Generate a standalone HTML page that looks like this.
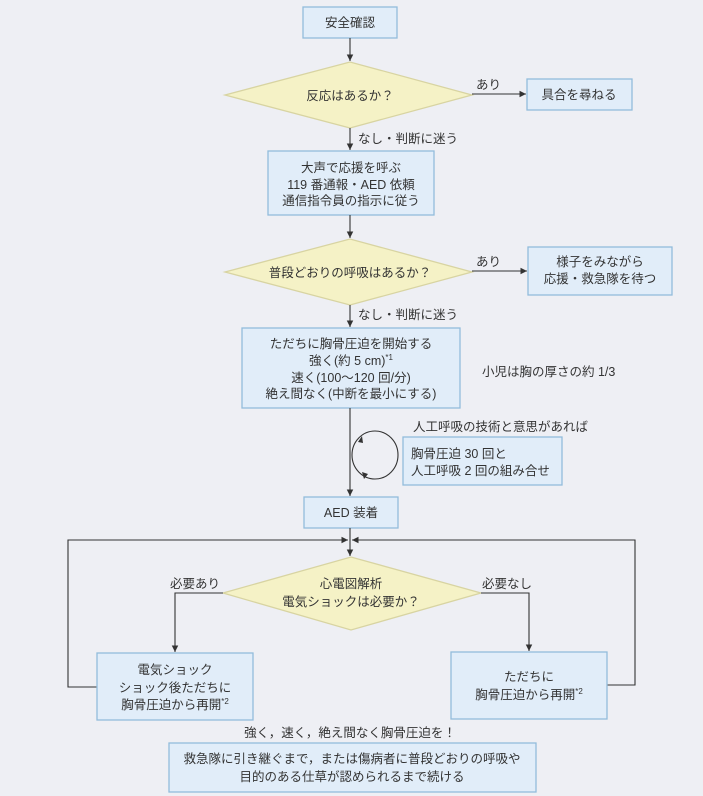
<!DOCTYPE html>
<html><head><meta charset="utf-8"><style>
html,body{margin:0;padding:0;background:#eeeff4;}
svg{display:block}
text{font-family:"Liberation Sans","Noto Sans CJK JP",sans-serif;font-size:12.5px;fill:#333;}
.b{fill:#e1edf9;stroke:#93bcdb;stroke-width:1.3}
.d{fill:#f5f2c6;stroke:#d8d4a2;stroke-width:1.3}
.l{stroke:#333;stroke-width:1.1;fill:none}
</style></head><body>
<svg width="703" height="796" viewBox="0 0 703 796">
<defs><marker id="a" viewBox="0 0 10 10" refX="10" refY="5" markerWidth="6" markerHeight="6" orient="auto"><path d="M0,0L10,5L0,10z" fill="#333"/></marker></defs>
<rect class="b" x="303" y="7" width="94" height="31"/>
<text x="350" y="27" text-anchor="middle">安全確認</text>
<line class="l" x1="350" y1="38" x2="350" y2="61" marker-end="url(#a)"/>
<polygon class="d" points="225,95 350,62 472,95 350,128"/>
<text x="350" y="100" text-anchor="middle">反応はあるか？</text>
<line class="l" x1="472" y1="94" x2="526" y2="94" marker-end="url(#a)"/>
<text x="476" y="89">あり</text>
<rect class="b" x="527" y="79" width="105" height="31"/>
<text x="579" y="99" text-anchor="middle">具合を尋ねる</text>
<line class="l" x1="350" y1="128" x2="350" y2="150" marker-end="url(#a)"/>
<text x="358" y="143">なし・判断に迷う</text>
<rect class="b" x="268" y="151" width="166" height="64"/>
<text x="351" y="172" text-anchor="middle">大声で応援を呼ぶ</text>
<text x="351" y="189" text-anchor="middle">119 番通報・AED 依頼</text>
<text x="351" y="205" text-anchor="middle">通信指令員の指示に従う</text>
<line class="l" x1="350" y1="215" x2="350" y2="238" marker-end="url(#a)"/>
<polygon class="d" points="225,272 350,239 472,272 350,305"/>
<text x="350" y="277" text-anchor="middle">普段どおりの呼吸はあるか？</text>
<line class="l" x1="472" y1="271" x2="527" y2="271" marker-end="url(#a)"/>
<text x="476" y="266">あり</text>
<rect class="b" x="528" y="247" width="144" height="48"/>
<text x="600" y="266" text-anchor="middle">様子をみながら</text>
<text x="600" y="283" text-anchor="middle">応援・救急隊を待つ</text>
<line class="l" x1="350" y1="305" x2="350" y2="327" marker-end="url(#a)"/>
<text x="358" y="319">なし・判断に迷う</text>
<rect class="b" x="242" y="328" width="218" height="80"/>
<text x="351" y="348" text-anchor="middle">ただちに胸骨圧迫を開始する</text>
<text x="351" y="365" text-anchor="middle">強く(約 5 cm)<tspan font-size="8" dy="-5">*1</tspan></text>
<text x="351" y="382" text-anchor="middle">速く(100〜120 回/分)</text>
<text x="351" y="398" text-anchor="middle">絶え間なく(中断を最小にする)</text>
<text x="482" y="376">小児は胸の厚さの約 1/3</text>
<line class="l" x1="350" y1="408" x2="350" y2="496" marker-end="url(#a)"/>
<ellipse class="l" cx="375" cy="455" rx="23" ry="24"/>
<path d="M358,442l4,-6l1,7z M362,472l2,7l4,-5z" fill="#333"/>
<text x="413" y="431">人工呼吸の技術と意思があれば</text>
<rect class="b" x="403" y="437" width="159" height="48"/>
<text x="411" y="458">胸骨圧迫 30 回と</text>
<text x="411" y="475">人工呼吸 2 回の組み合せ</text>
<rect class="b" x="304" y="497" width="94" height="31"/>
<text x="351" y="517" text-anchor="middle">AED 装着</text>
<line class="l" x1="350" y1="528" x2="350" y2="556" marker-end="url(#a)"/>
<polyline class="l" points="97,687 68,687 68,540 348,540" marker-end="url(#a)"/>
<polyline class="l" points="607,685 635,685 635,540 352,540" marker-end="url(#a)"/>
<polygon class="d" points="223,593 351,557 481,593 351,630"/>
<text x="351" y="588" text-anchor="middle">心電図解析</text>
<text x="351" y="606" text-anchor="middle">電気ショックは必要か？</text>
<polyline class="l" points="223,593 175,593 175,652" marker-end="url(#a)"/>
<text x="170" y="588">必要あり</text>
<polyline class="l" points="481,593 529,593 529,651" marker-end="url(#a)"/>
<text x="482" y="588">必要なし</text>
<rect class="b" x="97" y="653" width="156" height="67"/>
<text x="175" y="674" text-anchor="middle">電気ショック</text>
<text x="175" y="692" text-anchor="middle">ショック後ただちに</text>
<text x="175" y="709" text-anchor="middle">胸骨圧迫から再開<tspan font-size="8" dy="-5">*2</tspan></text>
<rect class="b" x="451" y="652" width="156" height="67"/>
<text x="529" y="681" text-anchor="middle">ただちに</text>
<text x="529" y="699" text-anchor="middle">胸骨圧迫から再開<tspan font-size="8" dy="-5">*2</tspan></text>
<text x="350" y="737" text-anchor="middle">強く，速く，絶え間なく胸骨圧迫を！</text>
<rect class="b" x="169" y="743" width="367" height="49"/>
<text x="352" y="763" text-anchor="middle">救急隊に引き継ぐまで，または傷病者に普段どおりの呼吸や</text>
<text x="352" y="781" text-anchor="middle">目的のある仕草が認められるまで続ける</text>
</svg>
</body></html>
